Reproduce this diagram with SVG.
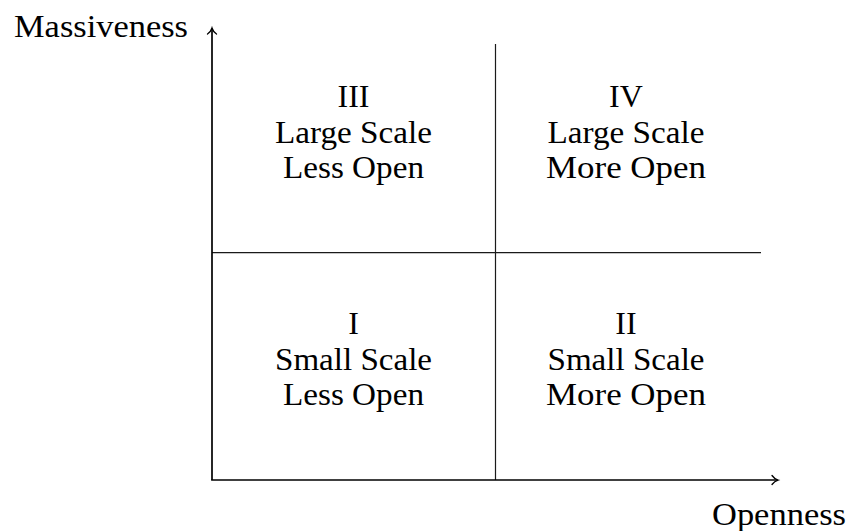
<svg xmlns="http://www.w3.org/2000/svg" width="850" height="531" viewBox="0 0 850 531">
  <style>
    text { font-family: "Liberation Serif", "DejaVu Serif", serif; font-size: 32px; fill: #000; }
    .c { text-anchor: middle; }
    .axis { stroke: #000; stroke-width: 1.7; fill: none; }
    .grid { stroke: #1a1a1a; stroke-width: 1.2; fill: none; }
    .head { stroke: #000; stroke-width: 1.3; fill: none; stroke-linecap: round; }
  </style>
  <rect width="850" height="531" fill="#fff"/>

  <!-- axes, quadrant dividers -->
  <g id="connectors">
    <line class="grid" x1="495.5" y1="44" x2="495.5" y2="480"/>
    <line class="grid" x1="212" y1="252.7" x2="761" y2="252.7"/>
    <line class="axis" x1="212" y1="28.5" x2="212" y2="480"/>
    <line class="axis" x1="211.15" y1="480" x2="777.5" y2="480"/>
    <path class="head" d="M207.5,34 Q211,31.5 212,28 Q213,31.5 216.5,34"/>
    <path class="head" d="M772,475.5 Q774.5,479 778,480 Q774.5,481 772,484.5"/>
  </g>

  <!-- axis titles -->
  <g id="y-label"><text x="14" y="37" textLength="174" lengthAdjust="spacingAndGlyphs">Massiveness</text></g>
  <g id="x-label"><text x="712" y="525" textLength="134" lengthAdjust="spacingAndGlyphs">Openness</text></g>

  <!-- quadrant labels -->
  <g id="q3">
    <text class="c" x="353.5" y="107">III</text>
    <text class="c" x="353.5" y="143" textLength="157" lengthAdjust="spacingAndGlyphs">Large Scale</text>
    <text class="c" x="353.5" y="178" textLength="141" lengthAdjust="spacingAndGlyphs">Less Open</text>
  </g>
  <g id="q4">
    <text class="c" x="626" y="107">IV</text>
    <text class="c" x="626" y="143" textLength="157" lengthAdjust="spacingAndGlyphs">Large Scale</text>
    <text class="c" x="626" y="178" textLength="160" lengthAdjust="spacingAndGlyphs">More Open</text>
  </g>
  <g id="q1">
    <text class="c" x="353.5" y="334">I</text>
    <text class="c" x="353.5" y="370" textLength="157" lengthAdjust="spacingAndGlyphs">Small Scale</text>
    <text class="c" x="353.5" y="405" textLength="141" lengthAdjust="spacingAndGlyphs">Less Open</text>
  </g>
  <g id="q2">
    <text class="c" x="626" y="334">II</text>
    <text class="c" x="626" y="370" textLength="157" lengthAdjust="spacingAndGlyphs">Small Scale</text>
    <text class="c" x="626" y="405" textLength="160" lengthAdjust="spacingAndGlyphs">More Open</text>
  </g>
</svg>
